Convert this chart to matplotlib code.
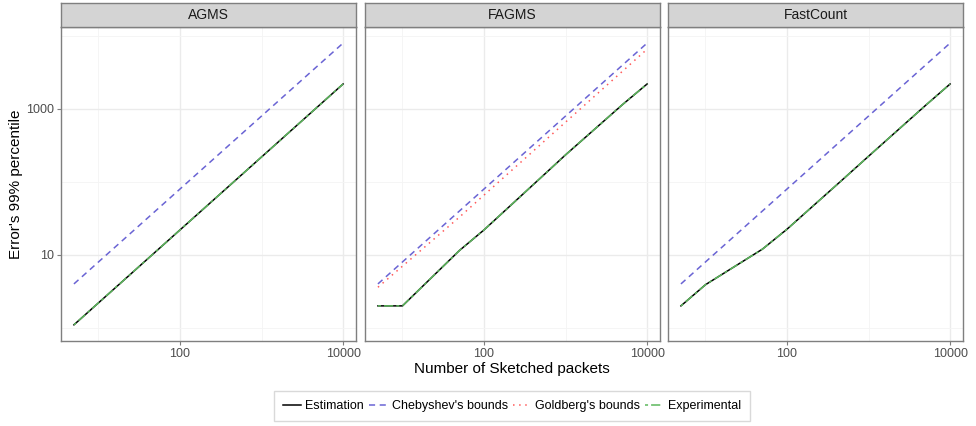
import matplotlib
matplotlib.use("Agg")
import matplotlib.pyplot as plt
from matplotlib.ticker import FixedLocator, NullFormatter, FixedFormatter
from matplotlib.lines import Line2D

plt.rcParams['font.family'] = ['Liberation Sans', 'DejaVu Sans']

packets = [5, 10, 50, 100, 500, 1000, 5000, 10000]

agms_est = [1.1, 2.2, 11, 22, 110, 220, 1100, 2200]
agms_cheb = [4, 8, 40, 80, 400, 800, 4000, 8000]
agms_exp = [1.1, 2.2, 11, 22, 110, 220, 1100, 2200]

fagms_est = [2.0, 2.0, 11.5, 22, 115, 235, 1150, 2200]
fagms_cheb = [4, 8, 40, 80, 400, 800, 4000, 8000]
fagms_gold = [3.6, 7.0, 33, 66, 330, 660, 3300, 6600]
fagms_exp = [2.0, 2.0, 11.5, 22, 115, 235, 1150, 2200]

fc_est = [2.0, 3.9, 12, 22.5, 112, 225, 1120, 2200]
fc_cheb = [4, 8, 40, 80, 400, 800, 4000, 8000]
fc_exp = [2.0, 3.9, 12, 22.5, 112, 225, 1120, 2200]

panels = ["AGMS", "FAGMS", "FastCount"]

C_EST = "black"
C_CHEB = "#6a64d4"
C_GOLD = "#ff5a5a"
C_EXP = "#5cb85c"

W, H = 976, 426
fig = plt.figure(figsize=(W / 100, H / 100), dpi=100)

lefts = [61, 365, 668]
pw = 295
top, bottom = 27, 341
strip_top = 3


def px_box(x0, y0, x1, y1):
    return [x0 / W, 1 - y1 / H, (x1 - x0) / W, (y1 - y0) / H]


def style_axes(ax, first):
    ax.set_xscale("log")
    ax.set_yscale("log")
    ax.set_xlim(3.47, 14400)
    ax.set_ylim(0.66, 13300)
    ax.xaxis.set_major_locator(FixedLocator([100, 10000]))
    ax.xaxis.set_minor_locator(FixedLocator([10, 1000]))
    ax.xaxis.set_major_formatter(FixedFormatter(["100", "10000"]))
    ax.xaxis.set_minor_formatter(NullFormatter())
    ax.yaxis.set_major_locator(FixedLocator([10, 1000]))
    ax.yaxis.set_minor_locator(FixedLocator([1, 100, 10000]))
    ax.yaxis.set_major_formatter(FixedFormatter(["10", "1000"]))
    ax.yaxis.set_minor_formatter(NullFormatter())
    ax.grid(which="major", color="#ebebeb", lw=1.0)
    ax.grid(which="minor", color="#f4f4f4", lw=0.6)
    ax.set_axisbelow(True)
    for s in ax.spines.values():
        s.set_color("#7f7f7f")
        s.set_linewidth(1.0)
    ax.tick_params(which="major", length=3, color="#7f7f7f", labelsize=9,
                   labelcolor="#4d4d4d", pad=2)
    ax.tick_params(which="minor", length=0)
    if not first:
        ax.tick_params(axis="y", which="both", labelleft=False, length=0)


series = [
    [(agms_est, C_EST, "-"), (agms_cheb, C_CHEB, (0, (4, 3))), (agms_exp, C_EXP, (0, (2, 2, 6, 2)))],
    [(fagms_est, C_EST, "-"), (fagms_cheb, C_CHEB, (0, (4, 3))),
     (fagms_gold, C_GOLD, (0, (1, 3))), (fagms_exp, C_EXP, (0, (2, 2, 6, 2)))],
    [(fc_est, C_EST, "-"), (fc_cheb, C_CHEB, (0, (4, 3))), (fc_exp, C_EXP, (0, (2, 2, 6, 2)))],
]

for i, name in enumerate(panels):
    x0 = lefts[i]
    ax = fig.add_axes(px_box(x0, top, x0 + pw, bottom))
    style_axes(ax, i == 0)
    for vals, col, ls in series[i]:
        ax.plot(packets, vals, color=col, linestyle=ls, lw=1.1)
    # facet strip
    sax = fig.add_axes(px_box(x0, strip_top, x0 + pw, top))
    sax.set_facecolor("#d4d4d4")
    sax.set_xticks([])
    sax.set_yticks([])
    for s in sax.spines.values():
        s.set_color("#7f7f7f")
        s.set_linewidth(1.0)
    sax.text(0.5, 0.5, name, ha="center", va="center", fontsize=10,
             color="#1a1a1a", transform=sax.transAxes)

fig.text(0.5 * (61 + 668 + pw) / W, 1 - 369 / H, "Number of Sketched packets",
         ha="center", va="center", fontsize=11)
fig.text(16 / W, 1 - 184 / H, "Error's 99% percentile", rotation=90,
         ha="center", va="center", fontsize=11)

handles = [
    Line2D([], [], color=C_EST, lw=1.1, linestyle="-"),
    Line2D([], [], color=C_CHEB, lw=1.1, linestyle=(0, (4, 3))),
    Line2D([], [], color=C_GOLD, lw=1.1, linestyle=(0, (1, 3))),
    Line2D([], [], color=C_EXP, lw=1.1, linestyle=(0, (2, 2, 6, 2))),
]
labels = ["Estimation", "Chebyshev's bounds", "Goldberg's bounds", "Experimental"]
leg = fig.legend(handles, labels, loc="center", bbox_to_anchor=(512 / W, 1 - 406 / H),
                 ncol=4, fontsize=9, frameon=True, fancybox=False,
                 handlelength=1.4, handletextpad=0.4, columnspacing=0.4,
                 borderpad=0.7, borderaxespad=0)
leg.get_frame().set_edgecolor("#d0d0d0")
leg.get_frame().set_linewidth(1.0)

fig.savefig("out.png", dpi=100)
